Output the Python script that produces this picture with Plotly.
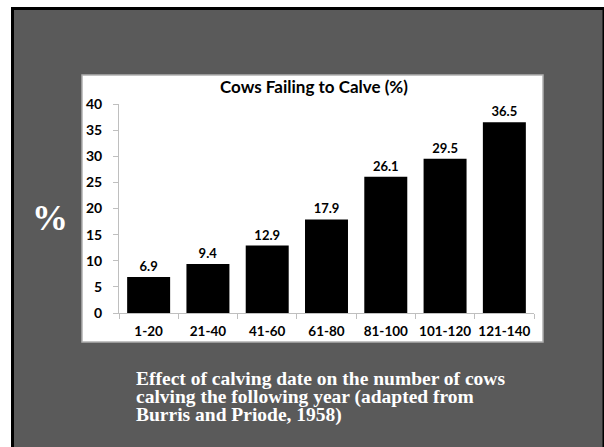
import plotly.graph_objects as go

# Days-after-start-of-calving groups and the share of cows failing to calve
categories = ["1-20", "21-40", "41-60", "61-80", "81-100", "101-120", "121-140"]
failed_pct = [6.9, 9.4, 12.9, 17.9, 26.1, 29.5, 36.5]
y_ticks = [0, 5, 10, 15, 20, 25, 30, 35, 40]

title_text = "Cows Failing to Calve (%)"
caption_lines = [
    "Effect of calving date on the number of cows",
    "calving the following year (adapted from",
    "Burris and Priode, 1958)",
]

W, H = 604, 447
# plot area in pixels
PX0, PX1, PY_TOP, PY_BOT = 119, 534, 104, 313


def px(x):
    return (x - PX0) / (PX1 - PX0)


def py(y):
    return (PY_BOT - y) / (PY_BOT - PY_TOP)


CHART_FONT = "Lato"
SERIF = "Liberation Serif"

fig = go.Figure(
    go.Bar(
        x=categories,
        y=failed_pct,
        marker=dict(color="black", line=dict(width=0)),
        text=[f"{v:.1f}" for v in failed_pct],
        textposition="outside",
        textfont=dict(family=CHART_FONT, size=13, color="black", weight="bold"),
        cliponaxis=False,
        hoverinfo="skip",
    )
)

shapes = [
    # slide frame
    dict(type="rect", xref="paper", yref="paper", x0=px(11), x1=px(605), y0=py(7), y1=py(450),
         fillcolor="black", line=dict(width=0), layer="below"),
    dict(type="rect", xref="paper", yref="paper", x0=px(14), x1=px(602.5), y0=py(10), y1=py(450),
         fillcolor="#5a5a5a", line=dict(width=0), layer="below"),
    # chart panel
    dict(type="rect", xref="paper", yref="paper", x0=px(82), x1=px(543), y0=py(75), y1=py(342),
         fillcolor="white", line=dict(color="#b0b0b0", width=1.5), layer="below"),
]

annotations = [
    dict(text=title_text, xref="paper", yref="paper", x=px(314), y=py(86),
         showarrow=False, xanchor="center", yanchor="middle",
         font=dict(family=CHART_FONT, size=17, color="black", weight="bold")),
    dict(text="%", xref="paper", yref="paper", x=px(50), y=py(218),
         showarrow=False, xanchor="center", yanchor="middle",
         font=dict(family=SERIF, size=36, color="white", weight="bold")),
]
for i, line in enumerate(caption_lines):
    annotations.append(
        dict(text=line, xref="paper", yref="paper", x=px(134), y=py(378 + 18.5 * i),
             showarrow=False, xanchor="left", yanchor="middle",
             font=dict(family=SERIF, size=19.5, color="white", weight="bold"))
    )

fig.update_layout(
    width=W,
    height=H,
    margin=dict(l=PX0, r=W - PX1, t=PY_TOP, b=H - PY_BOT, pad=0),
    paper_bgcolor="white",
    plot_bgcolor="rgba(0,0,0,0)",
    bargap=0.275,
    showlegend=False,
    shapes=shapes,
    annotations=annotations,
    xaxis=dict(
        type="category",
        showline=True, linecolor="#bfbfbf", linewidth=1,
        ticks="outside", tickson="boundaries", ticklen=5, tickcolor="#bfbfbf",
        showgrid=False, zeroline=False,
        tickangle=0,
        ticklabelstandoff=6,
        tickfont=dict(family=CHART_FONT, size=13.5, color="black", weight="bold"),
    ),
    yaxis=dict(
        range=[0, 40],
        tickvals=y_ticks,
        showline=True, linecolor="#bfbfbf", linewidth=1,
        ticks="outside", ticklen=5, tickcolor="#bfbfbf",
        showgrid=False, zeroline=False,
        ticklabelstandoff=8,
        tickfont=dict(family=CHART_FONT, size=14, color="black", weight="bold"),
    ),
)

fig.write_html("out.html")
